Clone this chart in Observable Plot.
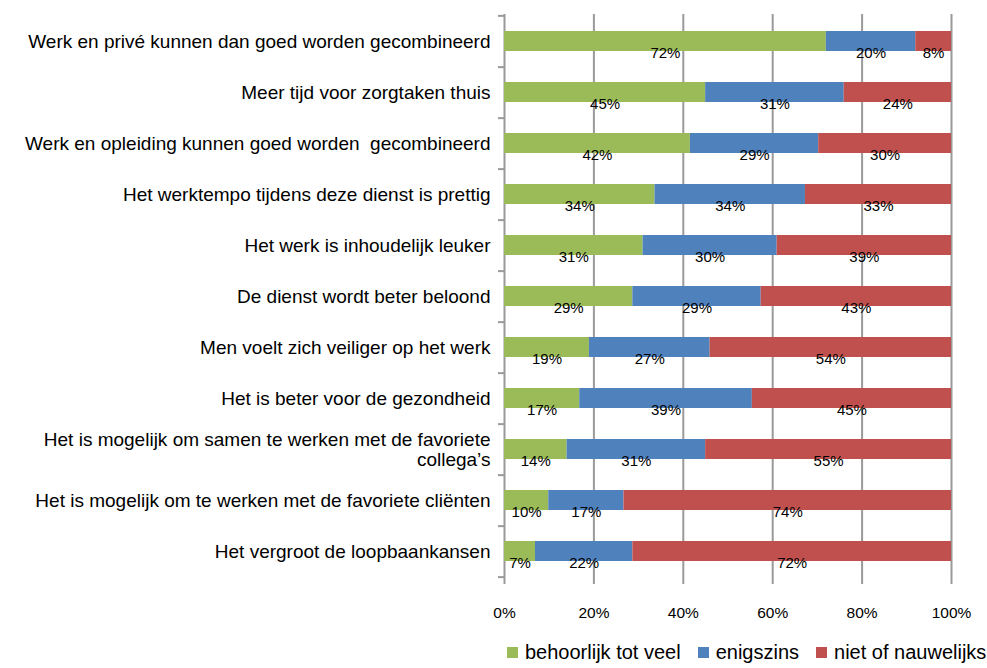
<!DOCTYPE html>
<html><head><meta charset="utf-8">
<script src="https://cdn.jsdelivr.net/npm/d3@7"></script>
<script src="https://cdn.jsdelivr.net/npm/@observablehq/plot@0.6"></script>
<style>
body{margin:0;background:#fff;font-family:"Liberation Sans",Arial,sans-serif;color:#000;}
#legend{display:flex;align-items:center;margin-left:507px;font-size:20px;height:30px;margin-top:2px}
.item{display:flex;align-items:center;margin-right:17px;white-space:nowrap}
.sw{width:11px;height:11px;display:inline-block;margin-right:7px}
</style></head><body><div id="chart"></div><div id="legend"></div>
<script>
const categories = [
  "Werk en privé kunnen dan goed worden gecombineerd",
  "Meer tijd voor zorgtaken thuis",
  "Werk en opleiding kunnen goed worden\u00a0 gecombineerd",
  "Het werktempo tijdens deze dienst is prettig",
  "Het werk is inhoudelijk leuker",
  "De dienst wordt beter beloond",
  "Men voelt zich veiliger op het werk",
  "Het is beter voor de gezondheid",
  "Het is mogelijk om samen te werken met de favoriete\ncollega’s",
  "Het is mogelijk om te werken met de favoriete cliënten",
  "Het vergroot de loopbaankansen"
];
const behoorlijk = [72,45,42,34,31,29,19,17,14,10,7];
const enigszins  = [20,31,29,34,30,29,27,39,31,17,22];
const niet       = [8,24,30,33,39,43,54,45,55,74,72];
const seriesNames = ["behoorlijk tot veel","enigszins","niet of nauwelijks"];
const colors = ["#9BBB59","#4F81BD","#C0504D"];
const xTicks = [0,0.2,0.4,0.6,0.8,1];

const seriesValues = [behoorlijk, enigszins, niet];
const data = [];
categories.forEach((c,i) => seriesNames.forEach((s,j) => data.push({category:c, series:s, value:seriesValues[j][i]})));

const H = 635, mTop = 14, mBottom = 57;
const step = (H - mTop - mBottom) / categories.length;
const gridColor = "#9a9a9a";

const chart = Plot.plot({
  width: 987, height: H,
  marginLeft: 504, marginRight: 36, marginTop: mTop, marginBottom: mBottom,
  style: {fontFamily: "Liberation Sans, Arial, sans-serif", fontSize: "15px", color: "#000", background: "#fff"},
  x: {domain: [0,1]},
  y: {domain: categories, paddingInner: 0.6, paddingOuter: 0.3},
  color: {domain: seriesNames, range: colors},
  marks: [
    Plot.ruleX(xTicks, {stroke: gridColor, strokeWidth: 2}),
    Plot.ruleY(categories, {y: d => d, x1: 0, x2: 0.0135, dx: -6, dy: step/2, stroke: gridColor, strokeWidth: 2}),
    Plot.ruleY([categories[0]], {y: d => d, x1: 0, x2: 0.0135, dx: -6, dy: -step/2, stroke: gridColor, strokeWidth: 2}),
    Plot.barX(data, Plot.stackX({x: "value", y: "category", fill: "series", offset: "normalize"})),
    Plot.text(data, Plot.stackX({x: "value", y: "category", z: "series", offset: "normalize",
      text: d => d.value + "%", dy: 12, fill: "#000", fontSize: 15})),
    Plot.axisX(xTicks, {tickSize: 6, tickPadding: 22, stroke: gridColor, strokeWidth: 2,
      tickFormat: d => Math.round(d*100) + "%", fontSize: 15.5, label: null}),
    Plot.axisY({tickSize: 0, tickPadding: 14, fontSize: 19, lineHeight: 1.05, label: null, tickFormat: d => d})
  ]
});
document.getElementById("chart").appendChild(chart);

const legend = document.getElementById("legend");
seriesNames.forEach((s,i) => {
  const it = document.createElement("div"); it.className = "item";
  const sw = document.createElement("span"); sw.className = "sw"; sw.style.background = colors[i];
  it.appendChild(sw); it.appendChild(document.createTextNode(s));
  legend.appendChild(it);
});
</script></body></html>
